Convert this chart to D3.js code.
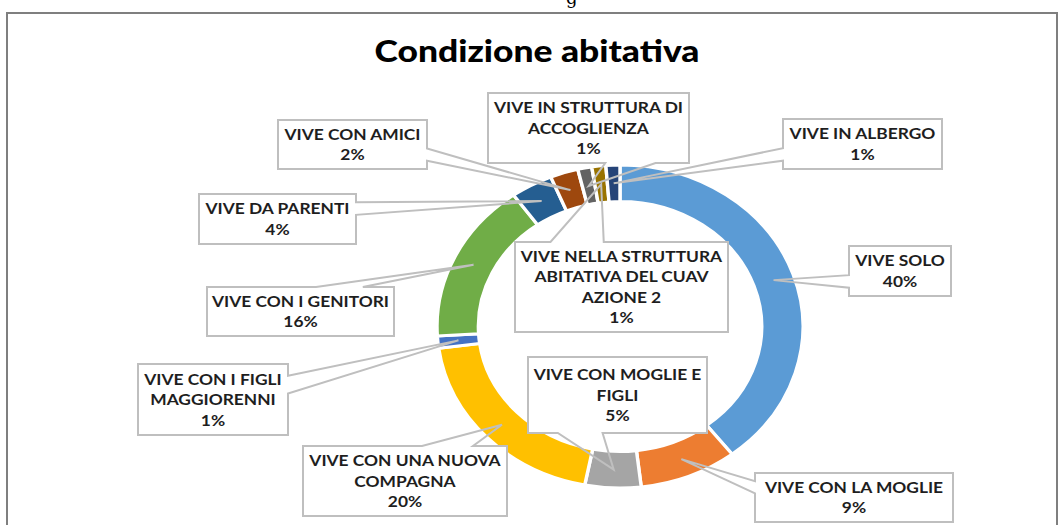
<!DOCTYPE html>
<html><head><meta charset="utf-8">
<script src="https://cdn.jsdelivr.net/npm/d3@7"></script>
<style>
html,body{margin:0;padding:0;background:#fff;}
svg{display:block;}
</style></head>
<body>
<svg id="chart" width="1060" height="525"></svg>
<script>
// ---- data ----
const title = "Condizione abitativa";
const categories = [
  "VIVE SOLO",
  "VIVE CON LA MOGLIE",
  "VIVE CON MOGLIE E FIGLI",
  "VIVE CON UNA NUOVA COMPAGNA",
  "VIVE CON I FIGLI MAGGIORENNI",
  "VIVE CON I GENITORI",
  "VIVE DA PARENTI",
  "VIVE CON AMICI",
  "VIVE IN STRUTTURA DI ACCOGLIENZA",
  "VIVE NELLA STRUTTURA ABITATIVA DEL CUAV AZIONE 2",
  "VIVE IN ALBERGO"
];
const values = [32, 7, 4, 16, 1, 13, 3, 2, 1, 1, 1];
const colors = ["#5B9BD5","#ED7D31","#A5A5A5","#FFC000","#4472C4","#70AD47",
                "#255E91","#9E480E","#636363","#997300","#264478"];
// callout box layout (left, top, width, height), one per category
const boxLayout = [
  [849,246,102,50],[755,473,198,49],[528,357,179,76],[303,446,204,70],
  [138,364,150,71],[207,287,187,49],[199,194,157,50],[278,120,149,49],
  [488,93,201,70],[515,242,213,90],[783,119,159,50]
];

// ---- chart ----
const svg = d3.select("#chart");
const cx = 620, cy = 326.5, rOuter = 161.5, rInner = 125, sx = 1.133;
const total = d3.sum(values);
const fmtPct = d3.format(".0%");
const font = "Lato, 'Open Sans', sans-serif";

// fragment of the surrounding page text above the chart (cut off at the top, as in the source)
svg.append("text").attr("x",566).attr("y",4).attr("font-family","'DejaVu Serif', serif")
  .attr("font-size",18).attr("fill","#000").text("g");

// frame
svg.append("rect").attr("x",7).attr("y",13).attr("width",1050).attr("height",600)
  .attr("fill","#fff").attr("stroke","#7f7f7f").attr("stroke-width",2);

svg.append("text").attr("x",537).attr("y",62).attr("text-anchor","middle")
  .attr("font-family",font).attr("font-weight",900)
  .attr("font-size",30).attr("fill","#000")
  .attr("textLength",325).attr("lengthAdjust","spacingAndGlyphs").text(title);

const pie = d3.pie().sort(null).value(d => d)(values);
const arc = d3.arc().innerRadius(rInner).outerRadius(rOuter);
const arcMid = d3.arc().innerRadius((rInner+rOuter)/2).outerRadius((rInner+rOuter)/2);

const g = svg.append("g").attr("transform",`translate(${cx},${cy}) scale(${sx},1)`);
g.selectAll("path").data(pie).join("path")
  .attr("d",arc).attr("fill",(d,i)=>colors[i])
  .attr("stroke","#fff").attr("stroke-width",3).attr("stroke-linejoin","miter");

// callouts
const fs = 15.5, lh = 20.5, stretch = 1.12;
const lab = svg.append("g");
const measure = svg.append("text").attr("font-family",font).attr("font-weight","bold")
  .attr("font-size",fs).attr("visibility","hidden");
function textW(s){ measure.text(s); return measure.node().getComputedTextLength(); }
function wrap(s, maxW){
  const words = s.split(" "); const lines=[]; let cur="";
  words.forEach(w=>{ const t = cur? cur+" "+w : w;
    if (cur && textW(t) > maxW) { lines.push(cur); cur = w; } else cur = t; });
  if (cur) lines.push(cur); return lines;
}

pie.forEach((d,i)=>{
  const [x,y,w,h] = boxLayout[i];
  const c = arcMid.centroid(d);
  const tx = cx + c[0]*sx, ty = cy + c[1];
  const dxp = tx-(x+w/2), dyp = ty-(y+h/2);
  const xb1 = x + w*(dxp>0?7:2)/12, xb2 = x + w*(dxp>0?10:5)/12;
  const yb1 = y + h*(dyp>0?7:2)/12, yb2 = y + h*(dyp>0?10:5)/12;
  let side;
  if (Math.abs(dyp)*w > Math.abs(dxp)*h) side = dyp<0 ? "top" : "bottom";
  else side = dxp<0 ? "left" : "right";
  let p = `M${x},${y}`;
  if (side==="top") p += `L${xb1},${y}L${tx},${ty}L${xb2},${y}`;
  p += `L${x+w},${y}`;
  if (side==="right") p += `L${x+w},${yb1}L${tx},${ty}L${x+w},${yb2}`;
  p += `L${x+w},${y+h}`;
  if (side==="bottom") p += `L${xb2},${y+h}L${tx},${ty}L${xb1},${y+h}`;
  p += `L${x},${y+h}`;
  if (side==="left") p += `L${x},${yb2}L${tx},${ty}L${x},${yb1}`;
  p += "Z";
  lab.append("rect").attr("x",x).attr("y",y).attr("width",w).attr("height",h).attr("fill","#fff");
  lab.append("path").attr("d",p).attr("fill","none").attr("stroke","#bfbfbf").attr("stroke-width",2)
    .attr("stroke-linejoin","miter");
  const lines = wrap(categories[i], w-12).concat([fmtPct(values[i]/total)]);
  const t = lab.append("text").attr("font-family",font).attr("font-weight","bold")
    .attr("font-size",fs).attr("fill","#1e1e1e").attr("text-anchor","middle");
  const y0 = y + h/2 - (lines.length-1)*lh/2 + 5.5;
  lines.forEach((s,k)=> t.append("tspan").attr("x",x+w/2).attr("y",y0+k*lh)
    .attr("textLength", Math.min(textW(s)*stretch, w-10)).attr("lengthAdjust","spacingAndGlyphs").text(s));
});
measure.remove();
</script>
</body></html>
